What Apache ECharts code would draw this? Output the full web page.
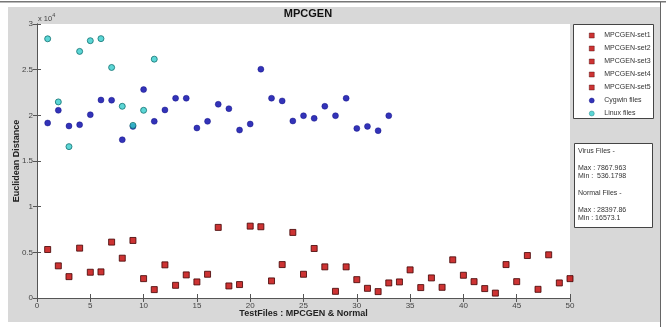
<!DOCTYPE html>
<html>
<head>
<meta charset="utf-8" />
<title>MPCGEN</title>
<script src="https://cdn.jsdelivr.net/npm/echarts@6/dist/echarts.min.js"></script>
<style>
  html, body { margin: 0; padding: 0; background: #fff; }
  #chart { width: 666px; height: 327px; }
</style>
</head>
<body>
<div id="chart"></div>
<script>
// virus files, 5 sets of 10 test files
const set1 = [5310, 3520, 2340, 5460, 2820, 2860, 6120, 4360, 6300, 2120];
const set2 = [920, 3630, 1390, 2530, 1760, 2600, 7730, 1320, 1470, 7868];
const set3 = [7800, 1870, 3660, 7180, 2600, 5420, 3410, 730, 3410, 2010];
const set4 = [1060, 700, 1650, 1760, 3080, 1140, 2200, 1170, 4180, 2490];
const set5 = [1790, 1030, 536, 3660, 1790, 4650, 950, 4730, 1650, 2120];
// normal files
const cygwin = [19160, 20550, 18830, 18970, 20070, 21680, 21650, 17330, 18790, 22820,
  19340, 20590, 21870, 21870, 18610, 19340, 21210, 20730, 18390, 19050,
  25050, 21870, 21580, 19380, 19960, 19670, 20990, 19960, 21870, 18570,
  18790, 18320, 19960];
const linux = [28380, 21470, 16573, 27000, 28170, 28398, 25240, 20990, 18900, 20550, 26150];

const setNames = ['MPCGEN-set1', 'MPCGEN-set2', 'MPCGEN-set3', 'MPCGEN-set4', 'MPCGEN-set5'];
const infoLines = ['Virus Files -', '', 'Max : 7867.963', 'Min :  536.1798', '',
  'Normal Files -', '', 'Max : 28397.86', 'Min : 16573.1'];

const FONT = 'Liberation Sans';
const chart = echarts.init(document.getElementById('chart'));

function toPoints(arr, start) {
  return arr.map(function (v, i) { return [start + i, v]; });
}

const series = [set1, set2, set3, set4, set5].map(function (arr, k) {
  return {
    name: setNames[k],
    type: 'scatter',
    symbol: 'rect',
    symbolSize: 6,
    data: toPoints(arr, 1 + k * 10),
    itemStyle: { color: '#c00000', borderColor: '#400000', borderWidth: 1 }
  };
});
series.push({
  name: 'Cygwin files',
  type: 'scatter',
  symbol: 'circle',
  symbolSize: 6,
  data: toPoints(cygwin, 1),
  itemStyle: { color: '#0000a6', borderColor: '#00007a', borderWidth: 0.5 }
});
series.push({
  name: 'Linux files',
  type: 'scatter',
  symbol: 'circle',
  symbolSize: 6,
  data: toPoints(linux, 1),
  itemStyle: { color: '#33cccc', borderColor: '#107070', borderWidth: 1 }
});

const option = {
  animation: false,
  backgroundColor: '#fff',
  textStyle: { fontFamily: FONT },
  title: {
    text: 'MPCGEN',
    left: 303,
    top: 3,
    textAlign: 'center',
    textStyle: { fontSize: 11, fontWeight: 'bold', color: '#111', fontFamily: FONT }
  },
  grid: { left: 37, right: 96, top: 24, bottom: 29, outerBoundsMode: 'none', containLabel: false },
  legend: {
    orient: 'vertical',
    left: 584,
    top: 27,
    itemWidth: 5,
    itemHeight: 5,
    itemGap: 6,
    itemStyle: { borderWidth: 0.5 },
    textStyle: { fontSize: 7, color: '#333', fontFamily: FONT, padding: [0, 0, 0, 5] },
    data: setNames.concat(['Cygwin files', 'Linux files'])
  },
  xAxis: [{
    type: 'value', min: 0, max: 50, interval: 5,
    name: 'TestFiles : MPCGEN & Normal',
    nameLocation: 'middle', nameGap: 11, nameMoveOverlap: false,
    nameTextStyle: { fontSize: 9, fontWeight: 'bold', color: '#222' },
    axisLine: { lineStyle: { color: '#555' } },
    axisTick: { inside: true, length: 4, lineStyle: { color: '#555' } },
    axisLabel: { fontSize: 8, color: '#444', margin: 4 },
    splitLine: { show: false }
  }, {
    type: 'value', min: 0, max: 50, interval: 5, position: 'top',
    axisLine: { show: true, lineStyle: { color: '#555' } },
    axisTick: { inside: true, length: 4, lineStyle: { color: '#555' } },
    axisLabel: { show: false },
    splitLine: { show: false }
  }],
  yAxis: [{
    type: 'value', min: 0, max: 30000, interval: 5000,
    name: 'Euclidean Distance',
    nameLocation: 'middle', nameGap: 16, nameMoveOverlap: false,
    nameTextStyle: { fontSize: 9, fontWeight: 'bold', color: '#222' },
    axisLine: { show: true, lineStyle: { color: '#555' } },
    axisTick: { show: true, inside: true, length: 4, lineStyle: { color: '#555' } },
    axisLabel: {
      fontSize: 8, color: '#444', margin: 4,
      formatter: function (v) { return String(v / 10000); }
    },
    splitLine: { show: false }
  }, {
    type: 'value', min: 0, max: 30000, interval: 5000, position: 'right',
    axisLine: { show: true, lineStyle: { color: '#555' } },
    axisTick: { show: true, inside: true, length: 4, lineStyle: { color: '#555' } },
    axisLabel: { show: false },
    splitLine: { show: false }
  }],
  graphic: [
    // figure frame
    { type: 'rect', z: -10, shape: { x: 0, y: 1, width: 666, height: 1.5 }, style: { fill: '#777' } },
    { type: 'rect', z: -10, shape: { x: 8, y: 7, width: 652, height: 315 }, style: { fill: '#d8d8d8' } },
    { type: 'rect', z: -10, shape: { x: 37, y: 24, width: 533, height: 274 }, style: { fill: '#fff' } },
    { type: 'line', z: -10, shape: { x1: 660.5, y1: 2, x2: 660.5, y2: 327 }, style: { stroke: '#666', lineWidth: 1 } },
    // legend box
    { type: 'rect', z: -5, shape: { x: 573.5, y: 24.5, width: 80, height: 94 },
      style: { fill: '#fff', stroke: '#444', lineWidth: 1 } },
    // info box
    { type: 'rect', z: -5, shape: { x: 574.5, y: 143.5, width: 78, height: 84 },
      style: { fill: '#fff', stroke: '#444', lineWidth: 1 } },
    { type: 'text', left: 578, top: 147,
      style: { text: infoLines.join('\n'), fontSize: 7, lineHeight: 8.4, fill: '#333', fontFamily: FONT } },
    // exponent
    { type: 'text', left: 38, top: 12,
      style: {
        text: '{a|x 10}{b|4}',
        rich: {
          a: { fontSize: 7.5, fill: '#444', fontFamily: FONT, verticalAlign: 'bottom' },
          b: { fontSize: 5.5, fill: '#444', fontFamily: FONT, padding: [0, 0, 5, 0] }
        }
      } }
  ],
  series: series
};
chart.setOption(option);
</script>
</body>
</html>
